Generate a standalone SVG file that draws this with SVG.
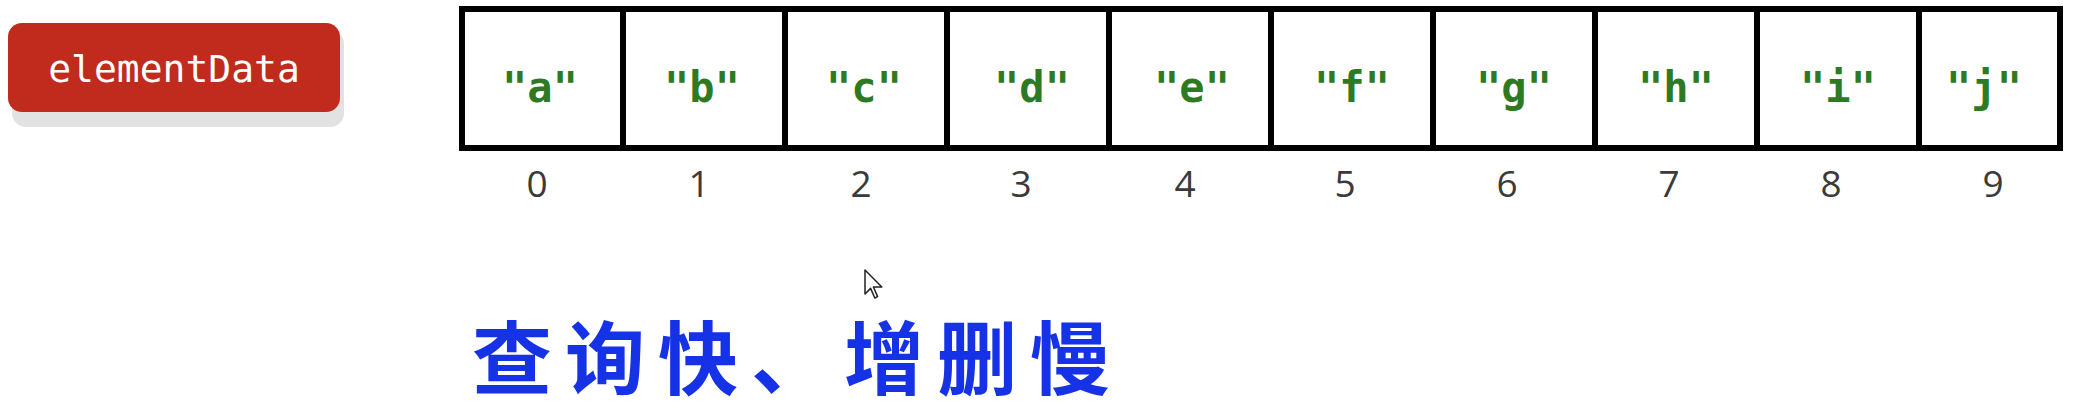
<svg xmlns="http://www.w3.org/2000/svg" width="2076" height="416" viewBox="0 0 2076 416">
  <style>
    .cell { fill: #ffffff; stroke: #000000; stroke-width: 6; }
    .val { font-family: "DejaVu Sans Mono", "Liberation Mono", monospace; font-weight: bold; font-size: 42px; fill: #2d7a22; text-anchor: middle; }
    .idx { font-family: "Open Sans", "Noto Sans", sans-serif; font-size: 37px; fill: #3a3a3a; text-anchor: middle; }
    .btn-text { font-family: "DejaVu Sans Mono", "Liberation Mono", monospace; font-size: 38px; fill: #ffffff; text-anchor: middle; }
    .cn { font-family: "Noto Sans CJK SC", sans-serif; font-weight: bold; font-size: 80px; fill: #1632e6; letter-spacing: 13px; }
  </style>
  <rect width="2076" height="416" fill="#ffffff"/>

  <g id="elementData">
    <rect x="12" y="30" width="332" height="97" rx="14" fill="#e2e2e2"/>
    <rect x="8" y="23" width="332" height="89" rx="14" fill="#c02b1e"/>
    <text class="btn-text" x="174" y="82">elementData</text>
  </g>

  <g id="array">
    <rect class="cell" x="462" y="9" width="1598" height="139"/>
    <g id="cell0"><text class="val" x="540" y="102">"a"</text><text class="idx" x="537" y="197">0</text></g>
    <g id="cell1"><text class="val" x="702" y="102">"b"</text><text class="idx" x="699" y="197">1</text></g>
    <g id="cell2"><text class="val" x="864" y="102">"c"</text><text class="idx" x="861" y="197">2</text></g>
    <g id="cell3"><text class="val" x="1032" y="102">"d"</text><text class="idx" x="1021" y="197">3</text></g>
    <g id="cell4"><text class="val" x="1192" y="102">"e"</text><text class="idx" x="1185" y="197">4</text></g>
    <g id="cell5"><text class="val" x="1352" y="102">"f"</text><text class="idx" x="1345" y="197">5</text></g>
    <g id="cell6"><text class="val" x="1514" y="102">"g"</text><text class="idx" x="1507" y="197">6</text></g>
    <g id="cell7"><text class="val" x="1676" y="102">"h"</text><text class="idx" x="1669" y="197">7</text></g>
    <g id="cell8"><text class="val" x="1838" y="102">"i"</text><text class="idx" x="1831" y="197">8</text></g>
    <g id="cell9"><text class="val" x="1984" y="102">"j"</text><text class="idx" x="1993" y="197">9</text></g>
    <g id="dividers" stroke="#000000" stroke-width="6">
      <line x1="623" y1="9" x2="623" y2="148"/>
      <line x1="785" y1="9" x2="785" y2="148"/>
      <line x1="947" y1="9" x2="947" y2="148"/>
      <line x1="1109" y1="9" x2="1109" y2="148"/>
      <line x1="1271" y1="9" x2="1271" y2="148"/>
      <line x1="1433" y1="9" x2="1433" y2="148"/>
      <line x1="1595" y1="9" x2="1595" y2="148"/>
      <line x1="1757" y1="9" x2="1757" y2="148"/>
      <line x1="1919" y1="9" x2="1919" y2="148"/>
    </g>
  </g>

  <g id="connectors"></g>

  <g id="caption">
    <text class="cn" x="472" y="388">查询快、增删慢</text>
  </g>

  <g id="cursor">
    <path d="M865,270 L865,294 L870.6,288.4 L874.8,298 L877.6,296.6 L873.4,287 L881.8,287 Z" fill="#ffffff" stroke="#222222" stroke-width="1.5" stroke-linejoin="round"/>
  </g>
</svg>
